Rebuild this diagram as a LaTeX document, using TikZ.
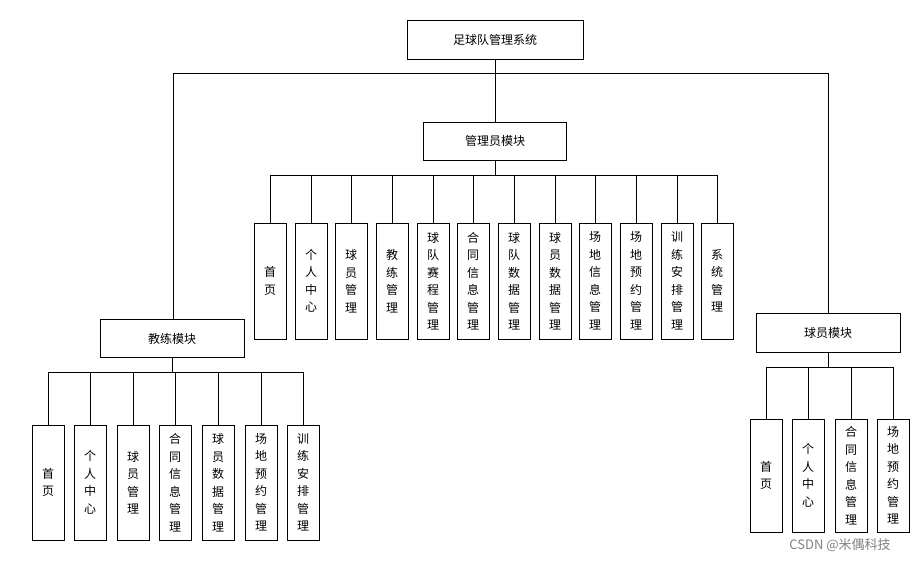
\documentclass[tikz,border=0pt]{standalone}
\usepackage{fontspec}
\setmainfont{Noto Sans CJK SC}
\begin{document}
\begin{tikzpicture}[x=1pt,y=-1pt,
  hbox/.style={draw,thick,minimum width=144pt,minimum height=38pt,inner sep=0pt,font=\fontsize{12}{14}\selectfont},
  vbox/.style={draw,thick,minimum width=32pt,inner sep=0pt,align=center,font=\fontsize{12}{17.5}\selectfont},
  ln/.style={thick}]
\useasboundingbox (0,0) rectangle (921,563);
\node[hbox,minimum width=176pt,minimum height=39pt] (root) at (495,39.5) {足球队管理系统};
\node[hbox,minimum width=143pt] (adm) at (495,141) {管理员模块};
\node[hbox] (coach) at (172,338.5) {教练模块};
\node[hbox,minimum height=39pt] (ply) at (828,332.5) {球员模块};
\coordinate (jl) at (173,73); \coordinate (jr) at (828,73);
\draw[ln] (root.south) -- (adm.north);
\draw[ln] (coach.north -| jl) |- (jr) -- (ply.north);
% admin children
\def\ay{281}
\foreach \i/\x/\t in {a1/270/首\\页, a2/311/个\\人\\中\\心, a3/351/球\\员\\管\\理, a4/392/教\\练\\管\\理, a5/433/球\\队\\赛\\程\\管\\理, a6/473/合\\同\\信\\息\\管\\理, a7/514/球\\队\\数\\据\\管\\理, a8/555/球\\员\\数\\据\\管\\理, a9/595/场\\地\\信\\息\\管\\理, a10/636/场\\地\\预\\约\\管\\理, a11/677/训\\练\\安\\排\\管\\理, a12/717/系\\统\\管\\理}{
  \node[vbox,minimum height=116pt] (\i) at (\x,\ay) {\t};
  \draw[ln] (\i.north) -- ++(0,-48);
}
\draw[ln] (adm.south) -- (495,175);
\draw[ln] (a1.north |- 0,175) -- (a12.north |- 0,175);
% coach children
\foreach \i/\x/\t in {c1/48/首\\页, c2/90/个\\人\\中\\心, c3/133/球\\员\\管\\理, c4/175/合\\同\\信\\息\\管\\理, c5/218/球\\员\\数\\据\\管\\理, c6/261/场\\地\\预\\约\\管\\理, c7/303/训\\练\\安\\排\\管\\理}{
  \node[vbox,minimum height=115pt] (\i) at (\x,482.5) {\t};
  \draw[ln] (\i.north) -- ++(0,-53);
}
\draw[ln] (coach.south) -- (172,372);
\draw[ln] (c1.north |- 0,372) -- (c7.north |- 0,372);
% player children
\foreach \i/\x/\t in {p1/766/首\\页, p2/808/个\\人\\中\\心, p3/851/合\\同\\信\\息\\管\\理, p4/893/场\\地\\预\\约\\管\\理}{
  \node[vbox,minimum height=113pt] (\i) at (\x,475.5) {\t};
  \draw[ln] (\i.north) -- ++(0,-52);
}
\draw[ln] (ply.south) -- (828,367);
\draw[ln] (p1.north |- 0,367) -- (p4.north |- 0,367);
\node[text=gray,font=\fontsize{13}{15}\selectfont] (wm) at (840,545) {CSDN @米偶科技};
\end{tikzpicture}
\end{document}
